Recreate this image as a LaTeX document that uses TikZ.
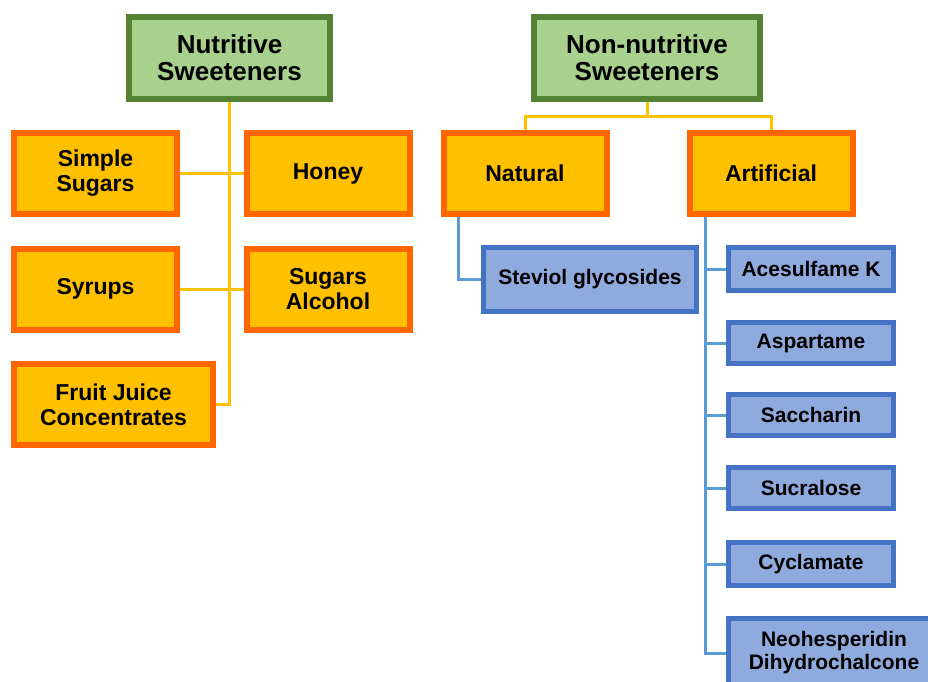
\documentclass[tikz,border=0pt]{standalone}
\usepackage{fontspec}
\setmainfont{Liberation Sans}
\usetikzlibrary{backgrounds}
\definecolor{leafgreen}{HTML}{A9D18E}
\definecolor{darkgreen}{HTML}{548235}
\definecolor{gold}{HTML}{FFC000}
\definecolor{deeporange}{HTML}{FF6600}
\definecolor{paleblue}{HTML}{8FAADC}
\definecolor{darkblue}{HTML}{4472C4}
\definecolor{lineblue}{HTML}{5B9BD5}

\begin{document}
\begin{tikzpicture}[x=1pt,y=-1pt,
  head/.style={draw=darkgreen, fill=leafgreen, line width=6pt, minimum height=82pt,
    align=center, inner sep=0pt, font=\fontsize{26}{27}\selectfont\bfseries},
  kind/.style={draw=deeporange, fill=gold, line width=6pt, minimum width=163pt,
    minimum height=81pt, align=center, inner sep=0pt, font=\fontsize{23}{25}\selectfont\bfseries},
  item/.style={draw=darkblue, fill=paleblue, line width=5pt, minimum width=165pt,
    minimum height=41pt, align=center, inner sep=0pt, font=\fontsize{21}{23}\selectfont\bfseries},
  yline/.style={draw=gold, line width=3pt},
  bline/.style={draw=lineblue, line width=3pt}]

\useasboundingbox (0,0) rectangle (928,681);

% heads
\node[head, minimum width=201pt] (nut) at (229.5,58) {Nutritive\\Sweeteners};
\node[head, minimum width=226pt] (non) at (647,58) {Non-nutritive\\Sweeteners};

% nutritive kinds
\node[kind] (simple) at (95.5,173.5) {Simple\\Sugars};
\node[kind] (honey) at (328,173.5) {Honey};
\node[kind] (syrups) at (95.5,289) {Syrups};
\node[kind] (alcohol) at (328,289) {Sugars\\Alcohol};
\node[kind, minimum width=199pt] (fruit) at (113.5,404.5) {Fruit Juice\\Concentrates};

% non-nutritive kinds
\node[kind] (nat) at (525,173.5) {Natural};
\node[kind] (art) at (771,173.5) {Artificial};

\node[item, minimum width=213pt, minimum height=64pt] (stev) at (590,279.5) {Steviol glycosides};

\node[item, minimum height=43pt] (ace) at (811,269) {Acesulfame K};
\node[item] (asp) at (811,343) {Aspartame};
\node[item] (sac) at (811,415) {Saccharin};
\node[item] (suc) at (811,488) {Sucralose};
\node[item, minimum height=43pt] (cyc) at (811,564) {Cyclamate};
\node[item, minimum width=211pt, minimum height=69pt] (neo) at (834,653) {Neohesperidin\\Dihydrochalcone};

\begin{scope}[on background layer]
\draw[yline] (nut.south) |- (fruit.east);
\draw[yline] (simple.east) -- (honey.west);
\draw[yline] (syrups.east) -- (alcohol.west);

\draw[yline] (non.south) -- ++(0,14) -| (nat.north);
\draw[yline] (non.south) -- ++(0,14) -| (art.north);

\draw[bline] ([xshift=18pt]nat.south west) |- (stev.west);
\foreach \n in {ace,asp,sac,suc,cyc,neo}
  \draw[bline] ([xshift=19pt]art.south west) |- (\n.west);
\end{scope}

\end{tikzpicture}
\end{document}
